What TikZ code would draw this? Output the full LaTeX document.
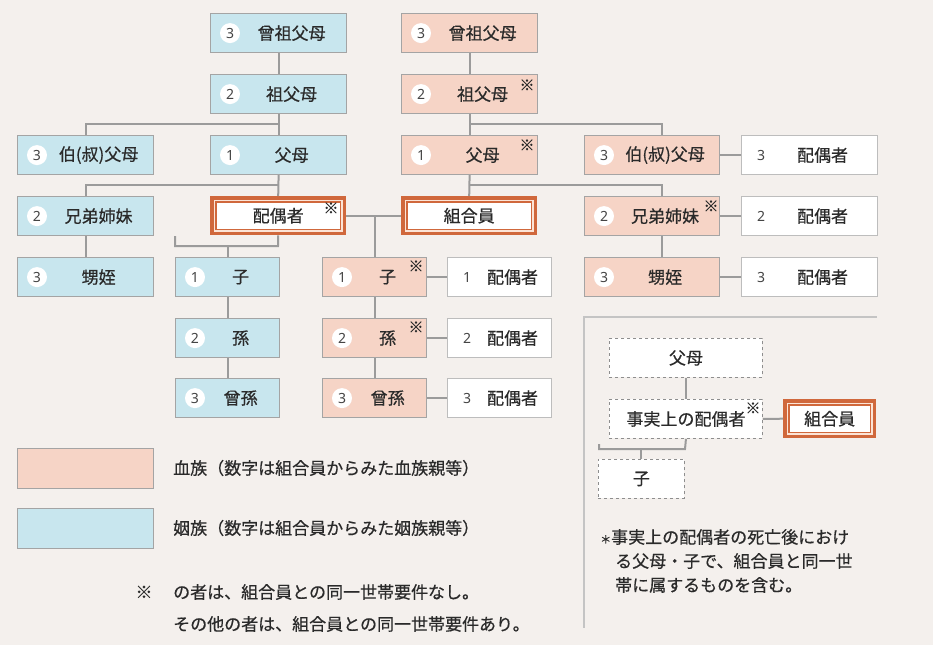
\documentclass[tikz,border=0pt]{standalone}
\usepackage{fontspec}
\setmainfont[FakeBold=0.5]{Noto Sans CJK JP}
\newfontfamily\numfont{Noto Sans}
\usetikzlibrary{calc}
\definecolor{bgc}{HTML}{F4F0ED}
\definecolor{pinkc}{HTML}{F6D4C6}
\definecolor{bluec}{HTML}{C8E6EE}
\definecolor{boxgray}{HTML}{A4A4A4}
\definecolor{wboxgray}{HTML}{BDBDBD}
\definecolor{dashgray}{HTML}{8E8E8E}
\definecolor{linegray}{HTML}{9B9B9B}
\definecolor{framegray}{HTML}{C4C4C4}
\definecolor{orangec}{HTML}{D0683C}
\definecolor{peachc}{HTML}{FCE4D6}
\definecolor{txtc}{HTML}{2A2A2A}
\definecolor{numc}{HTML}{444444}

\newcommand{\famnode}[7]{%
  \node[#2, minimum width=#5pt] (#1) at (#3,#4) {};
  \node[numcirc] (#1n) at ([xshift=20pt]#1.west) {#6};
  \node[lbl] (#1t) at ([xshift=13pt]#1.center) {#7};
}
\newcommand{\spnode}[5]{%
  \node[whitebox, minimum width=#4pt] (#1) at (#2,#3) {};
  \node[spnum] (#1n) at ([xshift=20pt]#1.west) {#5};
  \node[lbl] (#1t) at ([xshift=13pt]#1.center) {配偶者};
}
\newcommand{\dblnode}[5]{%
  \node[dblbase, minimum width=#4pt] (#1) at (#2,#3) {};
  \draw[orangec, line width=3.5pt] ([shift={(1.75pt,-1.75pt)}]#1.north west) rectangle ([shift={(-1.75pt,1.75pt)}]#1.south east);
  \draw[orangec, line width=1.3pt, fill=white] ([shift={(6pt,-6pt)}]#1.north west) rectangle ([shift={(-6pt,6pt)}]#1.south east);
  \node[lbl] (#1t) at (#1.center) {#5};
}

\begin{document}
\begin{tikzpicture}[x=1pt,y=-1pt,
  conn/.style={draw=linegray, line width=2pt},
  famrect/.style={draw=boxgray, line width=1.2pt, minimum height=39pt, inner sep=0pt, anchor=north west},
  pinkbox/.style={famrect, fill=pinkc},
  bluebox/.style={famrect, fill=bluec},
  whitebox/.style={famrect, fill=white, draw=wboxgray},
  dashbox/.style={famrect, fill=white, draw=dashgray, dashed, line width=0.9pt},
  dblbase/.style={minimum height=39pt, inner sep=0pt, anchor=north west, fill=peachc},
  numcirc/.style={circle, fill=white, minimum size=20pt, inner sep=0pt, text=numc, font=\numfont\fontsize{14}{14}\selectfont},
  lbl/.style={inner sep=0pt, text=txtc, font=\fontsize{17}{17}\selectfont},
  kome/.style={inner sep=0pt, text=txtc, font=\fontsize{15}{15}\selectfont},
  spnum/.style={inner sep=0pt, text=numc, font=\numfont\fontsize{14}{14}\selectfont},
]
\useasboundingbox (0,0) rectangle (933,645);
\fill[bgc] (0,0) rectangle (933,645);

% in-law (blue)
\famnode{B1}{bluebox}{210}{13}{136}{3}{曾祖父母}
\famnode{B2}{bluebox}{210}{74}{136}{2}{祖父母}
\famnode{B3}{bluebox}{17}{135}{136}{3}{伯(叔)父母}
\famnode{B4}{bluebox}{210}{135}{136}{1}{父母}
\famnode{B5}{bluebox}{17}{196}{136}{2}{兄弟姉妹}
\famnode{B6}{bluebox}{17}{257}{136}{3}{甥姪}
\famnode{B7}{bluebox}{175}{257}{104}{1}{子}
\famnode{B8}{bluebox}{175}{318}{104}{2}{孫}
\famnode{B9}{bluebox}{175}{378}{104}{3}{曾孫}

% blood (pink)
\famnode{P1}{pinkbox}{401}{13}{136}{3}{曾祖父母}
\famnode{P2}{pinkbox}{401}{74}{136}{2}{祖父母}
\famnode{P3}{pinkbox}{401}{135}{136}{1}{父母}
\famnode{P4}{pinkbox}{584}{135}{135}{3}{伯(叔)父母}
\famnode{P5}{pinkbox}{584}{196}{135}{2}{兄弟姉妹}
\famnode{P6}{pinkbox}{584}{257}{135}{3}{甥姪}
\famnode{P7}{pinkbox}{322}{257}{104}{1}{子}
\famnode{P8}{pinkbox}{322}{318}{104}{2}{孫}
\famnode{P9}{pinkbox}{322}{378}{104}{3}{曾孫}

% spouses
\spnode{W1}{741}{135}{136}{3}
\spnode{W2}{741}{196}{136}{2}
\spnode{W3}{741}{257}{136}{3}
\spnode{W4}{447}{257}{104}{1}
\spnode{W5}{447}{318}{104}{2}
\spnode{W6}{447}{378}{104}{3}

% double boxes
\dblnode{D1}{210}{196}{136}{配偶者}
\dblnode{D2}{401}{196}{136}{組合員}
\dblnode{D3}{783}{399}{93}{組合員}

% dashed boxes
\node[dashbox, minimum width=153pt] (Q1) at (609,338) {};
\node[lbl] (Q1t) at (Q1.center) {父母};
\node[dashbox, minimum width=153pt] (Q2) at (609,399) {};
\node[lbl] (Q2t) at (Q2.center) {事実上の配偶者};
\node[dashbox, minimum width=86pt] (Q3) at (598,459) {};
\node[lbl] (Q3t) at (Q3.center) {子};

% marks
\node[kome] (k1) at (527,85) {※};
\node[kome] (k2) at (527,145) {※};
\node[kome] (k3) at (711,206) {※};
\node[kome] (k4) at (416,266) {※};
\node[kome] (k5) at (416,327) {※};
\node[kome] (k6) at (331,208) {※};
\node[kome] (k7) at (753,408) {※};

% connectors (blue side)
\draw[conn] (B1.south) -- (B2.north);
\coordinate (j1) at (278,124);
\draw[conn] (B2.south) -- (B4.north);
\draw[conn] (j1) -| (B3.north);
\coordinate (j2) at (278,185);
\draw[conn] (B4.south) -- (D1.north);
\draw[conn] (j2) -| (B5.north);
\draw[conn] (B5.south) -- (B6.north);
\coordinate (j3) at (278,246);
\coordinate (j3l) at (175,246);
\coordinate (j3t) at (175,236);
\draw[conn] (D1.south) -- (j3) -- (j3l) -- (j3t);
\draw[conn] (B7.north |- j3) -- (B7.north);
\draw[conn] (B7.south) -- (B8.north);
\draw[conn] (B8.south) -- (B9.north);

% connectors (pink side)
\draw[conn] (P1.south) -- (P2.north);
\draw[conn] (P2.south) -- (P3.north);
\coordinate (j4) at (662,124);
\draw[conn] (P2.south |- j4) -- (j4) -- (j4 |- P4.north);
\draw[conn] (P3.south) -- (D2.north);
\coordinate (j5) at (662,185);
\draw[conn] (P3.south |- j5) -- (j5) -- (j5 |- P5.north);
\draw[conn] (j5 |- P5.south) -- (j5 |- P6.north);
\draw[conn] (D1.east) -- (D2.west);
\draw[conn] (P7.north |- D2.west) -- (P7.north);
\draw[conn] (P7.south) -- (P8.north);
\draw[conn] (P8.south) -- (P9.north);
\draw[conn] (P4.east) -- (W1.west);
\draw[conn] (P5.east) -- (W2.west);
\draw[conn] (P6.east) -- (W3.west);
\draw[conn] (P7.east) -- (W4.west);
\draw[conn] (P8.east) -- (W5.west);
\draw[conn] (P9.east) -- (W6.west);

% right-bottom inset
\draw[conn] (Q1.south) -- (Q2.north);
\draw[conn] (Q2.east) -- (D3.west);
\coordinate (j6) at (685,449);
\coordinate (j6l) at (599,449);
\coordinate (j6t) at (599,444);
\draw[conn] (Q2.south) -- (j6) -- (j6l) -- (j6t);
\draw[conn] (Q3.north |- j6) -- (Q3.north);
\coordinate (f1) at (877,317);
\coordinate (f2) at (584,317);
\coordinate (f3) at (584,628);
\draw[framegray, line width=1.2pt] (f1) -- (f2) -- (f3);

% legend
\node[pinkbox, minimum width=136pt, minimum height=40pt] (L1) at (17,448) {};
\node[bluebox, minimum width=136pt, minimum height=40pt] (L2) at (17,508) {};
\node[lbl, anchor=west] (L1t) at (173,468) {血族（数字は組合員からみた血族親等）};
\node[lbl, anchor=west] (L2t) at (173,528) {姻族（数字は組合員からみた姻族親等）};
\node[lbl] (L3k) at (144,592) {※};
\node[lbl, anchor=west] (L3t) at (173,592) {の者は、組合員との同一世帯要件なし。};
\node[lbl, anchor=west] (L4t) at (173,624) {その他の者は、組合員との同一世帯要件あり。};

% footnote
\node[lbl, anchor=west] (F1) at (600,537) {{\fontsize{11}{11}\selectfont ＊}事実上の配偶者の死亡後におけ};
\node[lbl, anchor=west] (F2) at (615,561) {る父母・子で、組合員と同一世};
\node[lbl, anchor=west] (F3) at (615,585) {帯に属するものを含む。};
\end{tikzpicture}
\end{document}
